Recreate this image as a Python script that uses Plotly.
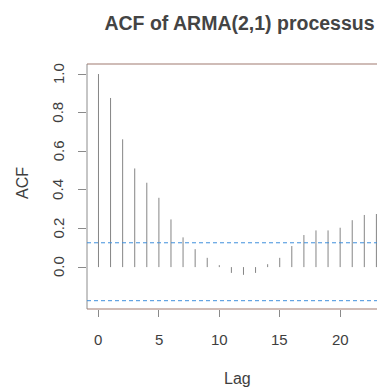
import plotly.graph_objects as go

# ---- data ----
lags = list(range(0, 24))
acf_values = [1.0, 0.876, 0.662, 0.511, 0.437, 0.359, 0.247, 0.154, 0.093, 0.048,
              0.01, -0.03, -0.04, -0.03, 0.015, 0.048, 0.109, 0.166, 0.19, 0.19,
              0.204, 0.243, 0.27, 0.275]
ci_upper = 0.126
ci_lower = -0.174
x_ticks = [0, 5, 10, 15, 20]
y_ticks = [0.0, 0.2, 0.4, 0.6, 0.8, 1.0]
y_ticklabels = ["0.0", "0.2", "0.4", "0.6", "0.8", "1.0"]
title_text = "ACF of ARMA(2,1) processus"
x_title = "Lag"
y_title = "ACF"

# ---- layout geometry (pixels) ----
W, H = 377, 389
L, R, T, B = 87, 0, 64, 80
PW, PH = W - L - R, H - T - B

# ---- build stick segments from the data ----
seg_x, seg_y = [], []
for lag, v in zip(lags, acf_values):
    seg_x += [lag, lag, None]
    seg_y += [0, v, None]

FONT = "Liberation Sans, Arial, sans-serif"
TXT = "#3e3e3e"

fig = go.Figure()
fig.add_trace(go.Scatter(x=seg_x, y=seg_y, mode="lines",
                         line=dict(color="#858585", width=1),
                         hoverinfo="skip", showlegend=False))

fig.update_layout(
    width=W, height=H,
    margin=dict(l=L, r=R, t=T, b=B),
    paper_bgcolor="white", plot_bgcolor="white",
    showlegend=False,
    title=dict(text=title_text, xref="container", yref="container",
               x=239.5 / W, y=1 - 23 / H, xanchor="center", yanchor="middle",
               font=dict(family=FONT, size=19.5, color="#444444", weight="bold")),
    font=dict(family=FONT, color=TXT),
)

fig.update_xaxes(range=[-0.95, 23.05], showgrid=False, zeroline=False, showline=False,
                 tickmode="array", tickvals=x_ticks, showticklabels=False,
                 ticks="outside", ticklen=7, tickcolor="#8a8a8a", tickwidth=1)
fig.update_yaxes(range=[-0.217, 1.052], showgrid=False, zeroline=False, showline=False,
                 tickmode="array", tickvals=y_ticks, showticklabels=False,
                 ticks="outside", ticklen=8, tickcolor="#8a8a8a", tickwidth=1)

# tick labels as annotations (R style: y labels rotated, parallel to the axis)
for t in x_ticks:
    fig.add_annotation(text=str(t), xref="x", yref="paper", x=t, y=(L * 0 + (H - B) - 339) / PH,
                       xanchor="center", yanchor="middle", showarrow=False,
                       font=dict(family=FONT, size=15, color=TXT))
for v, lab in zip(y_ticks, y_ticklabels):
    fig.add_annotation(text=lab, xref="paper", yref="y", x=(58 - L) / PW, y=v,
                       textangle=-90, xanchor="center", yanchor="middle", showarrow=False,
                       font=dict(family=FONT, size=15, color=TXT))

# frame lines (left, top, bottom; right edge is cropped in the reference)
fig.add_shape(type="line", xref="paper", yref="paper", x0=0, x1=0, y0=0, y1=1,
              line=dict(color="#8c8c8c", width=1))
fig.add_shape(type="line", xref="paper", yref="paper", x0=0, x1=1, y0=1, y1=1,
              line=dict(color="#a07a70", width=1.2))
fig.add_shape(type="line", xref="paper", yref="paper", x0=0, x1=1, y0=0, y1=0,
              line=dict(color="#a07a70", width=1.2))

# confidence bounds
for ci in (ci_upper, ci_lower):
    fig.add_shape(type="line", xref="paper", yref="y", x0=0, x1=1, y0=ci, y1=ci,
                  line=dict(color="#3f8fdc", width=1, dash="4px,3px"))

fig.add_annotation(text=x_title, xref="paper", yref="paper",
                   x=(237 - L) / PW, y=((H - B) - 378) / PH,
                   xanchor="center", yanchor="middle", showarrow=False,
                   font=dict(family=FONT, size=16, color=TXT))
fig.add_annotation(text=y_title, xref="paper", yref="paper",
                   x=(22 - L) / PW, y=((H - B) - 183) / PH, textangle=-90,
                   xanchor="center", yanchor="middle", showarrow=False,
                   font=dict(family=FONT, size=16, color=TXT))

fig.write_html("out.html")
